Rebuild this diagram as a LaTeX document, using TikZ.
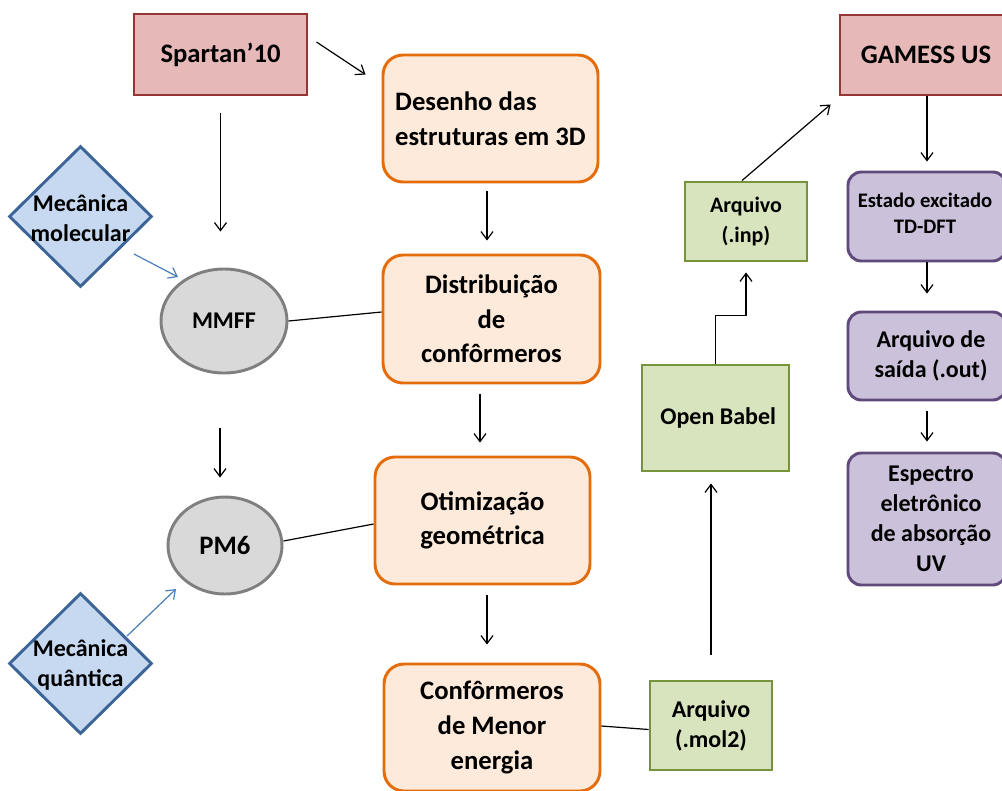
\documentclass[tikz,border=0pt]{standalone}
\usepackage{fontspec}
\setmainfont{Carlito}
\usetikzlibrary{arrows.meta,shapes.geometric,calc}
\definecolor{pinkf}{HTML}{E6B9B8}
\definecolor{pinkd}{HTML}{963634}
\definecolor{orgd}{HTML}{E46C0A}
\definecolor{orgf}{HTML}{FDEADA}
\definecolor{grnf}{HTML}{D7E4BD}
\definecolor{grnd}{HTML}{77933C}
\definecolor{purf}{HTML}{CCC1DA}
\definecolor{purd}{HTML}{604A7B}
\definecolor{bluf}{HTML}{C6D9F1}
\definecolor{blud}{HTML}{3C6496}
\definecolor{bluarr}{HTML}{4A7EBB}
\definecolor{grayf}{HTML}{D9D9D9}
\definecolor{grayd}{HTML}{7F7F7F}
\begin{document}
\begin{tikzpicture}[x=0.75pt,y=-0.75pt,
  base/.style={inner sep=0pt,align=center,line width=2.2pt},
  fbig/.style={font=\bfseries\fontsize{20}{26}\selectfont},
  fmid/.style={font=\bfseries\fontsize{18}{22.5}\selectfont},
  fsmall/.style={font=\bfseries\fontsize{16.5}{22}\selectfont},
  ftiny/.style={font=\bfseries\fontsize{15.5}{19.5}\selectfont},
  pinkbox/.style={base,fbig,draw=pinkd,fill=pinkf},
  orgbox/.style={base,fbig,draw=orgd,fill=orgf,rounded corners=15pt},
  grnbox/.style={base,draw=grnd,fill=grnf},
  purbox/.style={base,fmid,draw=purd,fill=purf,rounded corners=10pt},
  ell/.style={base,ellipse,draw=grayd,fill=grayf},
  dia/.style={base,diamond,draw=blud,fill=bluf},
  arr/.style={line width=0.9pt,-{Straight Barb[length=6pt,width=9pt,line width=0.9pt]}},
  barr/.style={line width=0.9pt,draw=bluarr,-{Straight Barb[length=6pt,width=9pt,line width=0.9pt]}},
  ln/.style={line width=0.9pt}]
\useasboundingbox (0,0) rectangle (1002,790);
\clip (0,0) rectangle (1002,790);

% nodes
\node[pinkbox,minimum width=129.75pt,minimum height=60.75pt] (spartan) at (220.5,54.5) {Spartan’10};
\node[pinkbox,minimum width=129pt,minimum height=60pt] (gamess) at (926,55) {GAMESS US};

\node[orgbox,minimum width=161.25pt,minimum height=95.25pt,align=left] (desenho) at (490.5,118.5) {Desenho das\\estruturas em 3D};
\node[orgbox,minimum width=162.75pt,minimum height=96pt] (distrib) at (491.5,319) {Distribuição\\de\\confôrmeros};
\node[orgbox,minimum width=161.25pt,minimum height=95.25pt] (otim) at (482.5,520.5) {Otimização\\geométrica};
\node[orgbox,minimum width=162pt,minimum height=95.25pt] (confor) at (492,727.5) {Confôrmeros\\de Menor\\energia};

\node[ell,fmid,minimum width=94.5pt,minimum height=78pt] (mmff) at (224,321) {MMFF};
\node[ell,fbig,minimum width=85.5pt,minimum height=72.75pt] (pm6) at (225,545.5) {PM6};

\node[dia,minimum width=107.25pt,minimum height=105.75pt] (molec) at (80.5,216.5) {};
\node[fmid,align=center,inner sep=0pt] (molect) at (80.5,218) {Mecânica\\molecular};
\node[dia,minimum width=107.25pt,minimum height=105.75pt] (quant) at (80.5,663.5) {};
\node[fmid,align=center,inner sep=0pt] (quantt) at (80.5,665) {Mecânica\\quântica};

\node[grnbox,fsmall,minimum width=91.5pt,minimum height=59.25pt] (inp) at (746,221.5) {Arquivo\\(.inp)};
\node[grnbox,fmid,minimum width=110.25pt,minimum height=79.5pt] (babel) at (715.5,418) {\hspace*{4pt}Open Babel};
\node[grnbox,fmid,minimum width=91.5pt,minimum height=66.75pt] (mol2) at (711,725.5) {Arquivo\\(.mol2)};

\node[purbox,minimum width=118.5pt,minimum height=66.75pt] (estado) at (927,216.5) {};
\node[ftiny,align=center,inner sep=0pt] (estadot) at (925,213) {Estado excitado\\TD-DFT};
\node[purbox,minimum width=118.5pt,minimum height=66pt] (saida) at (927,356) {\hspace*{6pt}Arquivo de\\\hspace*{6pt}saída (.out)};
\node[purbox,minimum width=118.5pt,minimum height=99pt] (espectro) at (927,519) {\hspace*{6pt}Espectro\\\hspace*{6pt}eletrônico\\\hspace*{6pt}de absorção\\\hspace*{6pt}UV};

% connectors
\draw[arr] ($(spartan.east)+(8,-12.5)$) -- ($(desenho.north west)+(-16,21)$);
\draw[arr] ($(spartan.south)+(0,17)$) -- ($(spartan.south |- mmff.north)+(0,-36)$);
\draw[barr] ($(molec.center)+(53.5,37.5)$) -- ($(mmff.center)+(-46,-44)$);
\draw[arr] ($(mmff.south)+(-4,54)$) -- ($(pm6.north)+(-5,-18)$);
\draw[barr] ($(quant.center)+(46.5,-27.5)$) -- ($(pm6.center)+(-49,43.5)$);
\draw[ln] (mmff.east) -- ($(distrib.west)+(0,-7)$);
\draw[ln] ($(pm6.east)+(0,-4.5)$) -- ($(otim.west)+(0,3.5)$);
\draw[arr] ($(desenho.south)+(-3.5,8)$) -- ($(distrib.north)+(-4.5,-13)$);
\draw[arr] ($(distrib.south)+(-11.5,10)$) -- ($(otim.north)+(-2.5,-13)$);
\draw[arr] ($(otim.south)+(4.5,10)$) -- ($(confor.north)+(-5,-18)$);
\draw[ln] ($(confor.east)+(0,-1.5)$) -- ($(mol2.west)+(0,4)$);
\draw[arr] ($(mol2.north)+(0,-25)$) -- ($(babel.south)+(-4.5,11)$);
\draw[arr] (babel.north) -- ++(0,-48) -| ($(inp.south)+(0,10)$);
\draw[arr] ($(inp.north)+(-4,0)$) -- ($(gamess.south west)+(-8,8)$);
\draw[arr] (gamess.south -| estado.north) -- ($(estado.north)+(0,-9)$);
\draw[arr] (estado.south) -- ($(saida.north)+(0,-17)$);
\draw[arr] ($(saida.south)+(0,10)$) -- ($(espectro.north)+(0,-10)$);
\end{tikzpicture}
\end{document}
